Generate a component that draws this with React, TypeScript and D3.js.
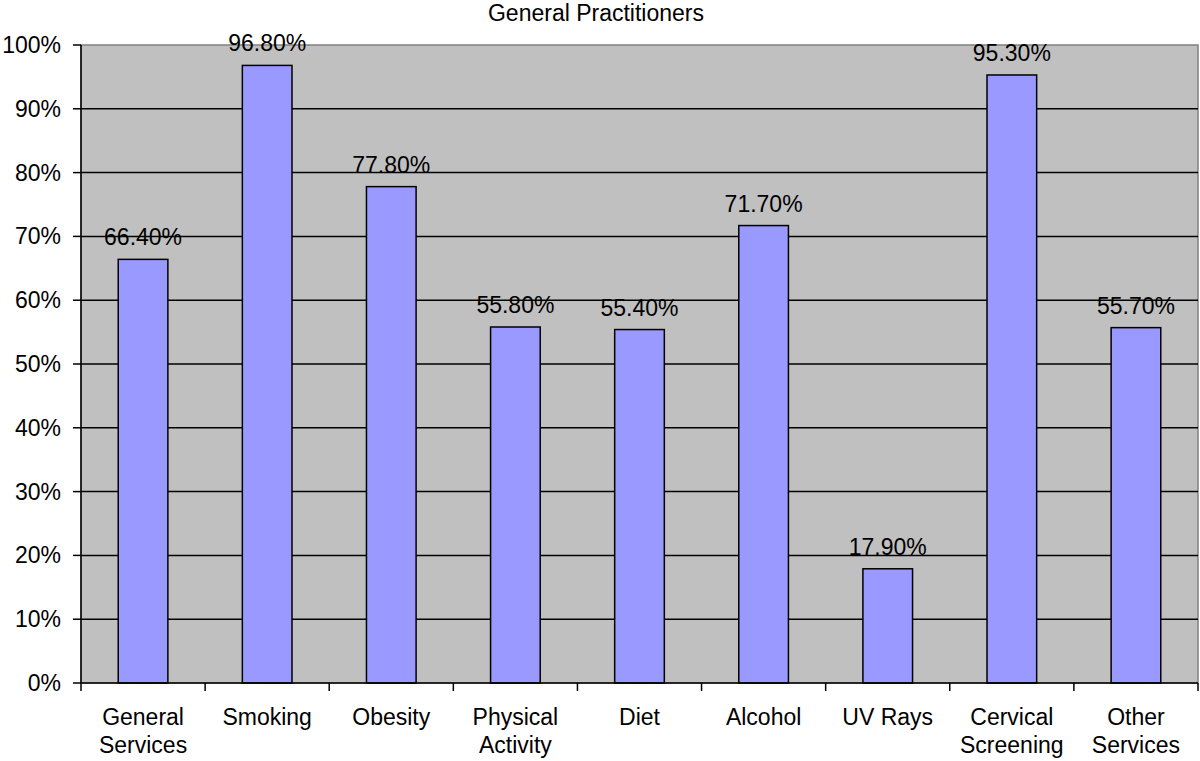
import * as d3 from 'd3';

const categories = [
  ['General', 'Services'],
  ['Smoking'],
  ['Obesity'],
  ['Physical', 'Activity'],
  ['Diet'],
  ['Alcohol'],
  ['UV Rays'],
  ['Cervical', 'Screening'],
  ['Other', 'Services'],
];
const values = [66.4, 96.8, 77.8, 55.8, 55.4, 71.7, 17.9, 95.3, 55.7];
const yTicks = [0, 10, 20, 30, 40, 50, 60, 70, 80, 90, 100];

const width = 1200;
const height = 761;
const margin = { top: 45, right: 2, bottom: 78, left: 81 };
const font = '"Liberation Sans", Arial, Helvetica, sans-serif';
const fs = 23;

export default function App() {
  const plotW = width - margin.left - margin.right;
  const plotH = height - margin.top - margin.bottom;
  const x = d3
    .scaleBand<number>()
    .domain(d3.range(values.length))
    .range([0, plotW])
    .padding(0);
  const y = d3.scaleLinear().domain([0, 100]).range([plotH, 0]);
  const barW = x.bandwidth() * 0.4;

  return (
    <svg
      width={width}
      height={height}
      style={{ position: 'absolute', left: 0, top: 0, background: '#fff' }}
      fontFamily={font}
    >
      <text x={596} y={21} textAnchor="middle" fontSize={fs} fill="#000">
        General Practitioners
      </text>
      <g transform={`translate(${margin.left},${margin.top})`}>
        <rect width={plotW} height={plotH} fill="#c0c0c0" stroke="#808080" strokeWidth={1.5} />
        {yTicks.slice(1, -1).map((t) => (
          <line key={t} x1={0} x2={plotW} y1={y(t)} y2={y(t)} stroke="#000" strokeWidth={1.5} />
        ))}
        {values.map((v, i) => (
          <g key={i}>
            <rect
              x={x(i)! + (x.bandwidth() - barW) / 2}
              y={y(v)}
              width={barW}
              height={plotH - y(v)}
              fill="#9999ff"
              stroke="#000"
              strokeWidth={1.5}
            />
            <text
              x={x(i)! + x.bandwidth() / 2}
              y={y(v) - 14}
              textAnchor="middle"
              fontSize={fs}
              fill="#000"
            >
              {v.toFixed(2)}%
            </text>
          </g>
        ))}
        {/* y axis */}
        <line x1={0} x2={0} y1={0} y2={plotH} stroke="#000" strokeWidth={1.5} />
        {yTicks.map((t) => (
          <g key={t}>
            <line x1={-8} x2={0} y1={y(t)} y2={y(t)} stroke="#000" strokeWidth={1.5} />
            <text x={-20} y={y(t) + 8} textAnchor="end" fontSize={fs} fill="#000">
              {t}%
            </text>
          </g>
        ))}
        {/* x axis */}
        <line x1={0} x2={plotW} y1={plotH} y2={plotH} stroke="#000" strokeWidth={1.5} />
        {d3.range(values.length + 1).map((i) => (
          <line
            key={i}
            x1={i * x.step()}
            x2={i * x.step()}
            y1={plotH}
            y2={plotH + 8}
            stroke="#000"
            strokeWidth={1.5}
          />
        ))}
        {categories.map((lines, i) => (
          <text
            key={i}
            x={x(i)! + x.bandwidth() / 2}
            y={plotH + 42}
            textAnchor="middle"
            fontSize={fs}
            fill="#000"
          >
            {lines.map((l, j) => (
              <tspan key={j} x={x(i)! + x.bandwidth() / 2} dy={j === 0 ? 0 : 28}>
                {l}
              </tspan>
            ))}
          </text>
        ))}
      </g>
    </svg>
  );
}
